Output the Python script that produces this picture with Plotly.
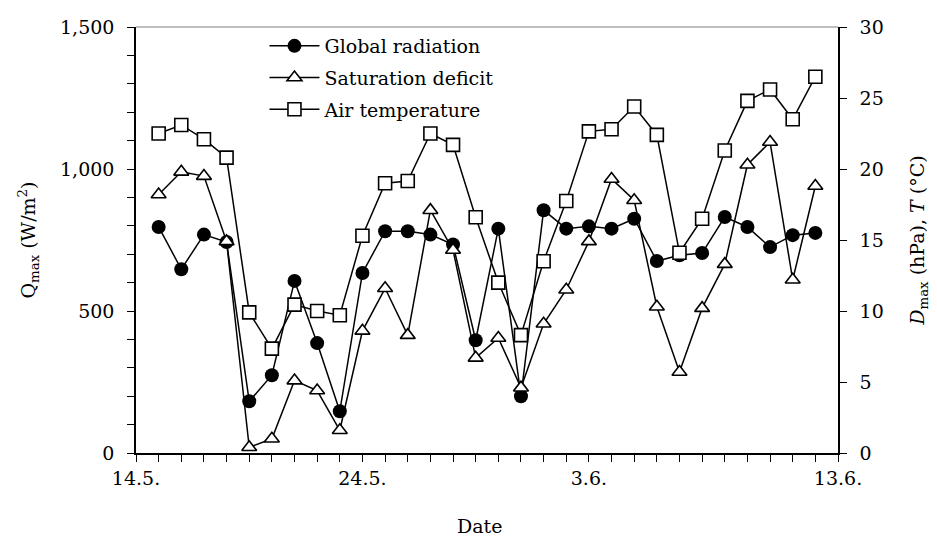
import plotly.graph_objects as go

dates = ["2000-05-15", "2000-05-16", "2000-05-17", "2000-05-18", "2000-05-19",
         "2000-05-20", "2000-05-21", "2000-05-22", "2000-05-23", "2000-05-24",
         "2000-05-25", "2000-05-26", "2000-05-27", "2000-05-28", "2000-05-29",
         "2000-05-30", "2000-05-31", "2000-06-01", "2000-06-02", "2000-06-03",
         "2000-06-04", "2000-06-05", "2000-06-06", "2000-06-07", "2000-06-08",
         "2000-06-09", "2000-06-10", "2000-06-11", "2000-06-12", "2000-06-13"]

global_radiation = [796, 647, 769, 743, 182, 274, 606, 387, 147, 634,
                    781, 781, 769, 734, 397, 790, 200, 855, 790, 798,
                    790, 825, 676, 696, 704, 831, 796, 725, 767, 775]

saturation_deficit = [18.2, 19.8, 19.5, 14.9, 0.4, 1.0, 5.1, 4.4, 1.6, 8.6,
                      11.6, 8.3, 17.1, 14.3, 6.7, 8.1, 4.6, 9.1, 11.5, 14.9,
                      19.3, 17.8, 10.3, 5.7, 10.2, 13.3, 20.3, 21.9, 12.2, 18.8]

air_temperature = [22.5, 23.1, 22.1, 20.8, 9.9, 7.35, 10.45, 10.0, 9.7, 15.3,
                   19.0, 19.15, 22.5, 21.7, 16.6, 12.0, 8.3, 13.5, 17.75, 22.65,
                   22.8, 24.4, 22.4, 14.1, 16.5, 21.3, 24.8, 25.6, 23.5, 26.5]

x_tickvals = ["2000-05-14", "2000-05-24", "2000-06-03", "2000-06-14"]
x_ticktext = ["14.5.", "24.5.", "3.6.", "13.6."]

FONT = "DejaVu Serif"
FS = 19
fig = go.Figure()

fig.add_trace(go.Scatter(
    x=dates, y=air_temperature, yaxis="y2", name="Air temperature",
    mode="lines+markers", legendrank=3, legendgroup="c",
    line=dict(color="black", width=1.5),
    marker=dict(symbol="square", size=13, color="white",
                line=dict(color="black", width=1.6))))

fig.add_trace(go.Scatter(
    x=dates, y=saturation_deficit, yaxis="y2", name="Saturation deficit",
    mode="lines+markers", legendrank=2, legendgroup="b",
    line=dict(color="black", width=1.5),
    marker=dict(symbol="triangle-up", size=13, color="white",
                line=dict(color="black", width=1.6))))

fig.add_trace(go.Scatter(
    x=dates, y=global_radiation, yaxis="y", name="Global radiation",
    mode="lines+markers", legendrank=1, legendgroup="a",
    line=dict(color="black", width=1.5),
    marker=dict(symbol="circle", size=14, color="black")))

fig.update_layout(
    width=937, height=539,
    margin=dict(l=128, r=107, t=19, b=94),
    paper_bgcolor="white", plot_bgcolor="white",
    font=dict(family=FONT, size=FS, color="black"),
    showlegend=True,
    legend=dict(x=0.183, y=1.0, xanchor="left", yanchor="top",
                bgcolor="rgba(0,0,0,0)", traceorder="grouped",
                tracegroupgap=4, font=dict(family=FONT, size=FS),
                itemwidth=50),
    xaxis=dict(
        type="date", range=["2000-05-14", "2000-06-14"], automargin=False,
        tickmode="array", tickvals=x_tickvals, ticktext=x_ticktext,
        showgrid=False, zeroline=False,
        showline=True, linecolor="black", linewidth=1.5,
        ticks="outside", ticklen=7, tickcolor="black", tickwidth=1.2,
        minor=dict(ticks="outside", ticklen=7, dtick=86400000,
                   tick0="2000-05-14", tickcolor="black", tickwidth=1.2,
                   showgrid=False),
        ticklabelstandoff=0,
        tickfont=dict(family=FONT, size=FS),
    ),
    yaxis=dict(
        range=[0, 1500], tickmode="linear", tick0=0, dtick=500, automargin=False,
        tickformat=",", showgrid=False, zeroline=False,
        showline=True, linecolor="black", linewidth=1.5,
        ticks="outside", ticklen=7, tickcolor="black", tickwidth=1.2,
        minor=dict(ticks="outside", ticklen=7, dtick=100,
                   tickcolor="black", tickwidth=1.2, showgrid=False),
        ticklabelstandoff=9,
        tickfont=dict(family=FONT, size=FS),
        title=dict(text="Q<sub>max</sub> (W/m<sup>2</sup>)",
                   font=dict(family=FONT, size=FS), standoff=19),
    ),
    yaxis2=dict(
        range=[0, 30], overlaying="y", side="right", automargin=False,
        tickmode="linear", tick0=0, dtick=5,
        showgrid=False, zeroline=False,
        showline=True, linecolor="black", linewidth=1.5,
        ticks="outside", ticklen=7, tickcolor="black", tickwidth=1.2,
        ticklabelstandoff=9,
        tickfont=dict(family=FONT, size=FS),
        title=dict(text="<i>D</i><sub>max</sub> (hPa), <i>T</i> (°C)",
                   font=dict(family=FONT, size=FS), standoff=28),
    ),
    shapes=[dict(type="line", xref="paper", yref="paper", x0=0, x1=1,
                 y0=1, y1=1, line=dict(color="#7f7f7f", width=1.2))],
    annotations=[dict(text="Date", xref="paper", yref="paper",
                      x=0.49, y=-0.172, xanchor="center", yanchor="middle",
                      showarrow=False, font=dict(family=FONT, size=FS))],
)

fig.write_html("out.html")
